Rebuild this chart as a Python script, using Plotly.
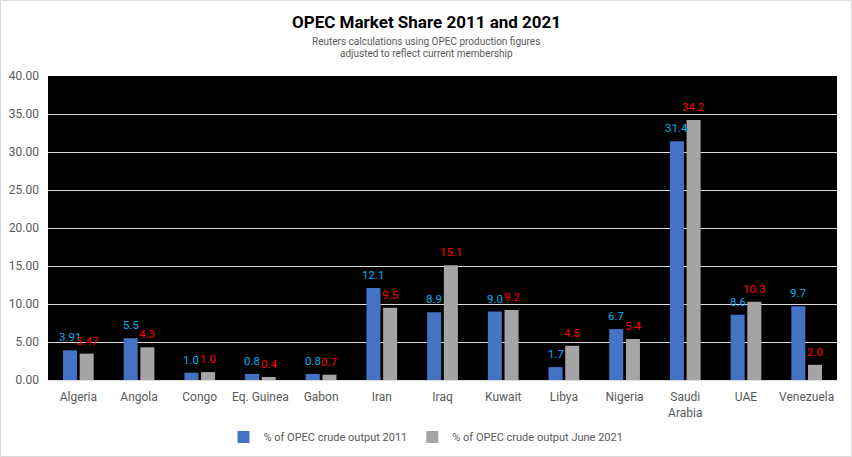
import plotly.graph_objects as go

countries = ["Algeria", "Angola", "Congo", "Eq. Guinea", "Gabon", "Iran", "Iraq",
             "Kuwait", "Libya", "Nigeria", "Saudi<br>Arabia", "UAE", "Venezuela"]
share_2011 = [3.91, 5.5, 0.96, 0.8, 0.8, 12.1, 8.9, 9.0, 1.7, 6.7, 31.4, 8.6, 9.7]
share_2021 = [3.47, 4.3, 1.04, 0.4, 0.7, 9.5, 15.1, 9.2, 4.5, 5.4, 34.2, 10.3, 2.0]
labels_2011 = ["3.91", "5.5", "1.0", "0.8", "0.8", "12.1", "8.9", "9.0", "1.7", "6.7", "31.4", "8.6", "9.7"]
labels_2021 = ["3.47", "4.3", "1.0", "0.4", "0.7", "9.5", "15.1", "9.2", "4.5", "5.4", "34.2", "10.3", "2.0"]
y_ticks = [0, 5, 10, 15, 20, 25, 30, 35, 40]

FONT = "Roboto, Arial"

W, H = 852, 457
L, R, T, B = 48, 15, 76, 77
pw, ph = W - L - R, H - T - B
BARGAP, GROUPGAP = 0.45, 0.16
cat_w = pw / len(countries)
half_group = cat_w * (1 - BARGAP) / 2
offset = half_group / 2  # center of each bar relative to category center

fig = go.Figure()
fig.add_trace(go.Bar(
    x=countries, y=share_2011, name="% of OPEC crude output 2011",
    marker=dict(color="#4472C4", line=dict(width=0)),
))
fig.add_trace(go.Bar(
    x=countries, y=share_2021, name="% of OPEC crude output June 2021",
    marker=dict(color="#A5A5A5", line=dict(width=0)),
))

annotations = [
    dict(text="<b>OPEC Market Share 2011 and 2021</b>", xref="paper", yref="paper",
         x=(W / 2 - L) / pw, y=1 + (T - 22) / ph, xanchor="center", yanchor="middle",
         showarrow=False, font=dict(size=17, color="black", family=FONT)),
    dict(text="Reuters calculations using OPEC production figures", xref="paper", yref="paper",
         x=(W / 2 - L) / pw, y=1 + (T - 41) / ph, xanchor="center", yanchor="middle",
         showarrow=False, font=dict(size=10, color="#595959", family=FONT)),
    dict(text="adjusted to reflect current membership", xref="paper", yref="paper",
         x=(W / 2 - L) / pw, y=1 + (T - 54) / ph, xanchor="center", yanchor="middle",
         showarrow=False, font=dict(size=10, color="#595959", family=FONT)),
]
for c, v, t in zip(countries, share_2011, labels_2011):
    annotations.append(dict(x=c, y=v, text=t, xref="x", yref="y", showarrow=False,
                            xanchor="center", yanchor="bottom", xshift=-offset, yshift=4,
                            font=dict(size=11.5, color="#00B0F0", family=FONT)))
for c, v, t in zip(countries, share_2021, labels_2021):
    annotations.append(dict(x=c, y=v, text=t, xref="x", yref="y", showarrow=False,
                            xanchor="center", yanchor="bottom", xshift=offset, yshift=4,
                            font=dict(size=11.5, color="#FF0000", family=FONT)))

fig.update_layout(
    width=W, height=H,
    margin=dict(l=L, r=R, t=T, b=B, autoexpand=False),
    paper_bgcolor="white", plot_bgcolor="black",
    barmode="group", bargap=BARGAP, bargroupgap=GROUPGAP,
    font=dict(family=FONT, color="#595959", size=12),
    xaxis=dict(showgrid=False, tickfont=dict(size=12, color="#595959"), automargin=False,
               showline=True, linecolor="#D9D9D9", ticks="", ticklabelstandoff=6),
    yaxis=dict(range=[0, 40], tickvals=y_ticks, tickformat=".2f", automargin=False,
               gridcolor="#D9D9D9", gridwidth=1, zeroline=False,
               tickfont=dict(size=12, color="#595959"), ticks="", ticklen=0,
               ticklabelstandoff=8),
    legend=dict(orientation="h", x=(W / 2 - L) / pw, xanchor="center",
                y=-(437 - 380) / ph, yanchor="middle",
                font=dict(size=11, color="#595959"), traceorder="normal",
                itemwidth=30, bgcolor="rgba(0,0,0,0)"),
    showlegend=True,
    annotations=annotations,
    shapes=[
        dict(type="rect", xref="paper", yref="paper",
             x0=(0.5 - L) / pw, x1=(W - 0.5 - L) / pw,
             y0=-(B - 0.5) / ph, y1=1 + (T - 0.5) / ph,
             line=dict(color="#D9D9D9", width=1), fillcolor="rgba(0,0,0,0)", layer="below"),
    ],
)

fig.write_html("out.html", config={"displayModeBar": False},
               post_script="document.body.style.margin='0';document.body.style.overflow='hidden';")
